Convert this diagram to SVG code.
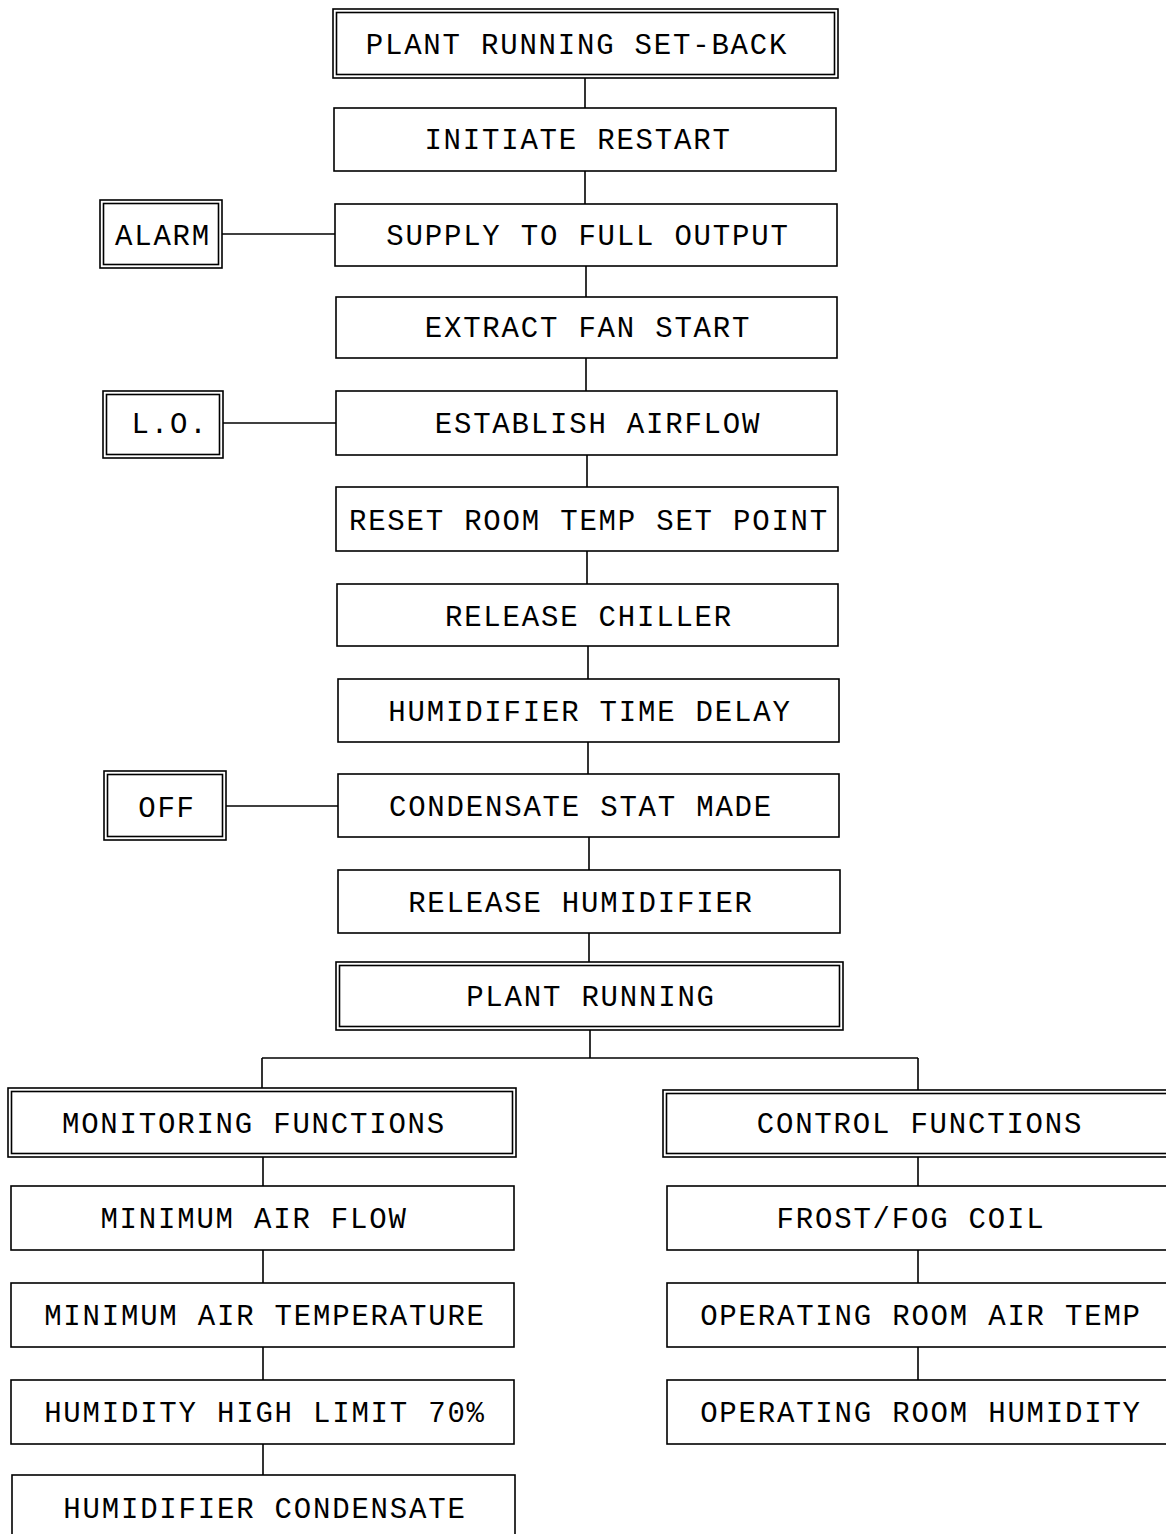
<svg xmlns="http://www.w3.org/2000/svg" width="1166" height="1534" viewBox="0 0 1166 1534">
<style>
rect{fill:none;stroke:#000;stroke-width:1.6}
.c line{stroke:#000;stroke-width:1.6}
text{font-family:"Liberation Mono","Courier New",monospace;font-size:29px;letter-spacing:1.8px;text-anchor:middle;fill:#000}
</style>
<rect x="0" y="0" width="1166" height="1534" style="fill:#fff;stroke:none"/>
<g class="c" id="connectors">
<line x1="585" y1="78" x2="585" y2="108"/>
<line x1="585" y1="171" x2="585" y2="204"/>
<line x1="586" y1="266" x2="586" y2="297"/>
<line x1="586" y1="358" x2="586" y2="391"/>
<line x1="587" y1="455" x2="587" y2="487"/>
<line x1="587" y1="551" x2="587" y2="584"/>
<line x1="588" y1="646" x2="588" y2="679"/>
<line x1="588" y1="742" x2="588" y2="774"/>
<line x1="589" y1="837" x2="589" y2="870"/>
<line x1="589" y1="933" x2="589" y2="962"/>
<line x1="590" y1="1030" x2="590" y2="1058"/>
<line x1="262" y1="1058" x2="918" y2="1058"/>
<line x1="262" y1="1058" x2="262" y2="1088"/>
<line x1="918" y1="1058" x2="918" y2="1090"/>
<line x1="263" y1="1157" x2="263" y2="1186"/>
<line x1="263" y1="1250" x2="263" y2="1283"/>
<line x1="263" y1="1347" x2="263" y2="1380"/>
<line x1="263" y1="1444" x2="263" y2="1475"/>
<line x1="918" y1="1157" x2="918" y2="1186"/>
<line x1="918" y1="1250" x2="918" y2="1283"/>
<line x1="918" y1="1347" x2="918" y2="1380"/>
<line x1="222" y1="234" x2="335" y2="234"/>
<line x1="223" y1="423" x2="336" y2="423"/>
<line x1="226" y1="806" x2="338" y2="806"/>
</g>
<g id="n1"><rect x="333" y="9" width="505" height="69"/><rect x="336.5" y="12.5" width="498" height="62"/><text x="577" y="54">PLANT RUNNING SET-BACK</text></g>
<g id="n2"><rect x="334" y="108" width="502" height="63"/><text x="578" y="149">INITIATE RESTART</text></g>
<g id="n3"><rect x="335" y="204" width="502" height="62"/><text x="588" y="245">SUPPLY TO FULL OUTPUT</text></g>
<g id="alarm"><rect x="100" y="200" width="122" height="68"/><rect x="103.5" y="203.5" width="115" height="61"/><text x="163" y="245">ALARM</text></g>
<g id="n4"><rect x="336" y="297" width="501" height="61"/><text x="588" y="337">EXTRACT FAN START</text></g>
<g id="n5"><rect x="336" y="391" width="501" height="64"/><text x="598" y="433">ESTABLISH AIRFLOW</text></g>
<g id="lo"><rect x="103" y="391" width="120" height="67"/><rect x="106.5" y="394.5" width="113" height="60"/><text x="170" y="433">L.O.</text></g>
<g id="n6"><rect x="336" y="487" width="502" height="64"/><text x="589" y="530">RESET ROOM TEMP SET POINT</text></g>
<g id="n7"><rect x="337" y="584" width="501" height="62"/><text x="589" y="626">RELEASE CHILLER</text></g>
<g id="n8"><rect x="338" y="679" width="501" height="63"/><text x="590" y="721">HUMIDIFIER TIME DELAY</text></g>
<g id="n9"><rect x="338" y="774" width="501" height="63"/><text x="581" y="816">CONDENSATE STAT MADE</text></g>
<g id="off"><rect x="104" y="771" width="122" height="69"/><rect x="107.5" y="774.5" width="115" height="62"/><text x="167" y="817">OFF</text></g>
<g id="n10"><rect x="338" y="870" width="502" height="63"/><text x="581" y="912">RELEASE HUMIDIFIER</text></g>
<g id="n11"><rect x="336" y="962" width="507" height="68"/><rect x="339.5" y="965.5" width="500" height="61"/><text x="591" y="1006">PLANT RUNNING</text></g>
<g id="mon"><rect x="8" y="1088" width="508" height="69"/><rect x="11.5" y="1091.5" width="501" height="62"/><text x="254" y="1133">MONITORING FUNCTIONS</text></g>
<g id="ctl"><rect x="663" y="1090" width="510" height="67"/><rect x="666.5" y="1093.5" width="510" height="60"/><text x="920" y="1133">CONTROL FUNCTIONS</text></g>
<g id="m1"><rect x="11" y="1186" width="503" height="64"/><text x="254" y="1228">MINIMUM AIR FLOW</text></g>
<g id="m2"><rect x="11" y="1283" width="503" height="64"/><text x="265" y="1325">MINIMUM AIR TEMPERATURE</text></g>
<g id="m3"><rect x="11" y="1380" width="503" height="64"/><text x="265" y="1422">HUMIDITY HIGH LIMIT 70%</text></g>
<g id="m4"><rect x="12" y="1475" width="503" height="70"/><text x="265" y="1518">HUMIDIFIER CONDENSATE</text></g>
<g id="c1"><rect x="667" y="1186" width="510" height="64"/><text x="911" y="1228">FROST/FOG COIL</text></g>
<g id="c2"><rect x="667" y="1283" width="510" height="64"/><text x="921" y="1325">OPERATING ROOM AIR TEMP</text></g>
<g id="c3"><rect x="667" y="1380" width="510" height="64"/><text x="921" y="1422">OPERATING ROOM HUMIDITY</text></g>
</svg>
